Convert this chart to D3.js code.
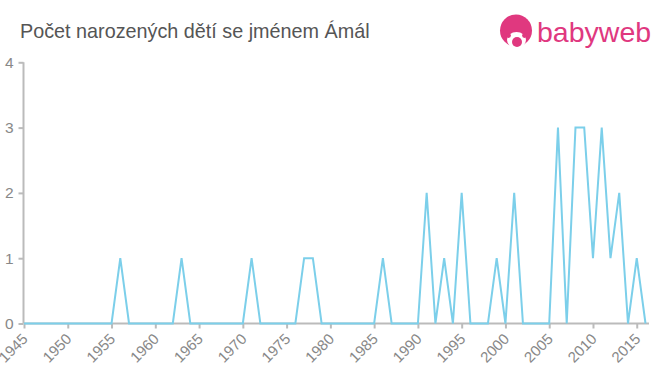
<!DOCTYPE html>
<html><head><meta charset="utf-8">
<script src="https://cdn.jsdelivr.net/npm/d3@7"></script>
<style>body{margin:0;background:#fff}svg{display:block}</style>
</head><body>
<svg id="c" width="660" height="375"></svg>
<script>
const years = d3.range(1945, 2017);
const counts = [
 0,0,0,0,0, 0,0,0,0,0,   // 1945-1954
 0,1,0,0,0, 0,0,0,1,0,   // 1955-1964
 0,0,0,0,0, 0,1,0,0,0,   // 1965-1974
 0,0,1,1,0, 0,0,0,0,0,   // 1975-1984
 0,1,0,0,0, 0,2,0,1,0,   // 1985-1994
 2,0,0,0,1, 0,2,0,0,0,   // 1995-2004
 0,3,0,3,3, 1,3,1,2,0,   // 2005-2014
 1,0                      // 2015-2016
];
const xTicks = d3.range(1945, 2016, 5);
const yTicks = [0,1,2,3,4];
const title = "Počet narozených dětí se jménem Ámál";

const svg = d3.select("#c");
const x = d3.scaleLinear().domain([1945, 2016]).range([24, 645.5]);
const y = d3.scaleLinear().domain([0, 4]).range([323.5, 62.3]);
const axisCol = "#bbbbbb", txtCol = "#888888";
const ff = "Liberation Sans, Arial, sans-serif";

svg.append("text").attr("x", 20).attr("y", 38).attr("fill", "#555")
  .attr("font-family", ff).attr("font-size", 19.8).text(title);

// logo
const lg = svg.append("g");
lg.append("circle").attr("cx", 516).attr("cy", 30.5).attr("r", 16).attr("fill", "#e0387f");
lg.append("ellipse").attr("cx", 516.5).attr("cy", 40).attr("rx", 9.5).attr("ry", 8).attr("fill", "#fff");
lg.append("circle").attr("cx", 517).attr("cy", 42).attr("r", 5).attr("fill", "#e0387f");
lg.append("circle").attr("cx", 508.5).attr("cy", 35.5).attr("r", 2.4).attr("fill", "#e0387f");
lg.append("circle").attr("cx", 524.5).attr("cy", 35.5).attr("r", 2.4).attr("fill", "#e0387f");
lg.append("text").attr("x", 537).attr("y", 42).attr("fill", "#e0387f")
  .attr("font-family", ff).attr("font-size", 28.5).text("babyweb");

// y axis
const ya = svg.append("g").attr("transform", "translate(23.5,0)")
  .call(d3.axisLeft(y).tickValues(yTicks).tickSize(5).tickPadding(5).tickFormat(d3.format("d")));
ya.select(".domain").attr("stroke", axisCol).attr("stroke-width", 2).attr("d", `M0,${y(4)}V${y(0)}`);
ya.selectAll(".tick line").attr("stroke", axisCol).attr("stroke-width", 2);
ya.selectAll(".tick text").attr("fill", txtCol).attr("font-size", 15.5).attr("font-family", ff);

// x axis
const xa = svg.append("g").attr("transform", "translate(0,323.5)")
  .call(d3.axisBottom(x).tickValues(xTicks).tickSize(5).tickFormat(d3.format("d")));
xa.select(".domain").attr("stroke", axisCol).attr("stroke-width", 2).attr("d", `M${x(1945)},0H649`);
xa.selectAll(".tick line").attr("stroke", axisCol).attr("stroke-width", 2);
xa.selectAll(".tick text").attr("fill", txtCol).attr("font-size", 15).attr("font-family", ff)
  .attr("text-anchor", "end").attr("dy", null).attr("y", 0)
  .attr("transform", "translate(-3.7,8.5) rotate(-45)").attr("dominant-baseline", "hanging");

// line
const data = years.map((yr, i) => ({yr, v: counts[i]}));
svg.append("path").datum(data)
  .attr("fill", "none").attr("stroke", "#7ccfea").attr("stroke-width", 2)
  .attr("d", d3.line().x(d => x(d.yr)).y(d => y(d.v)));
</script>
</body></html>
